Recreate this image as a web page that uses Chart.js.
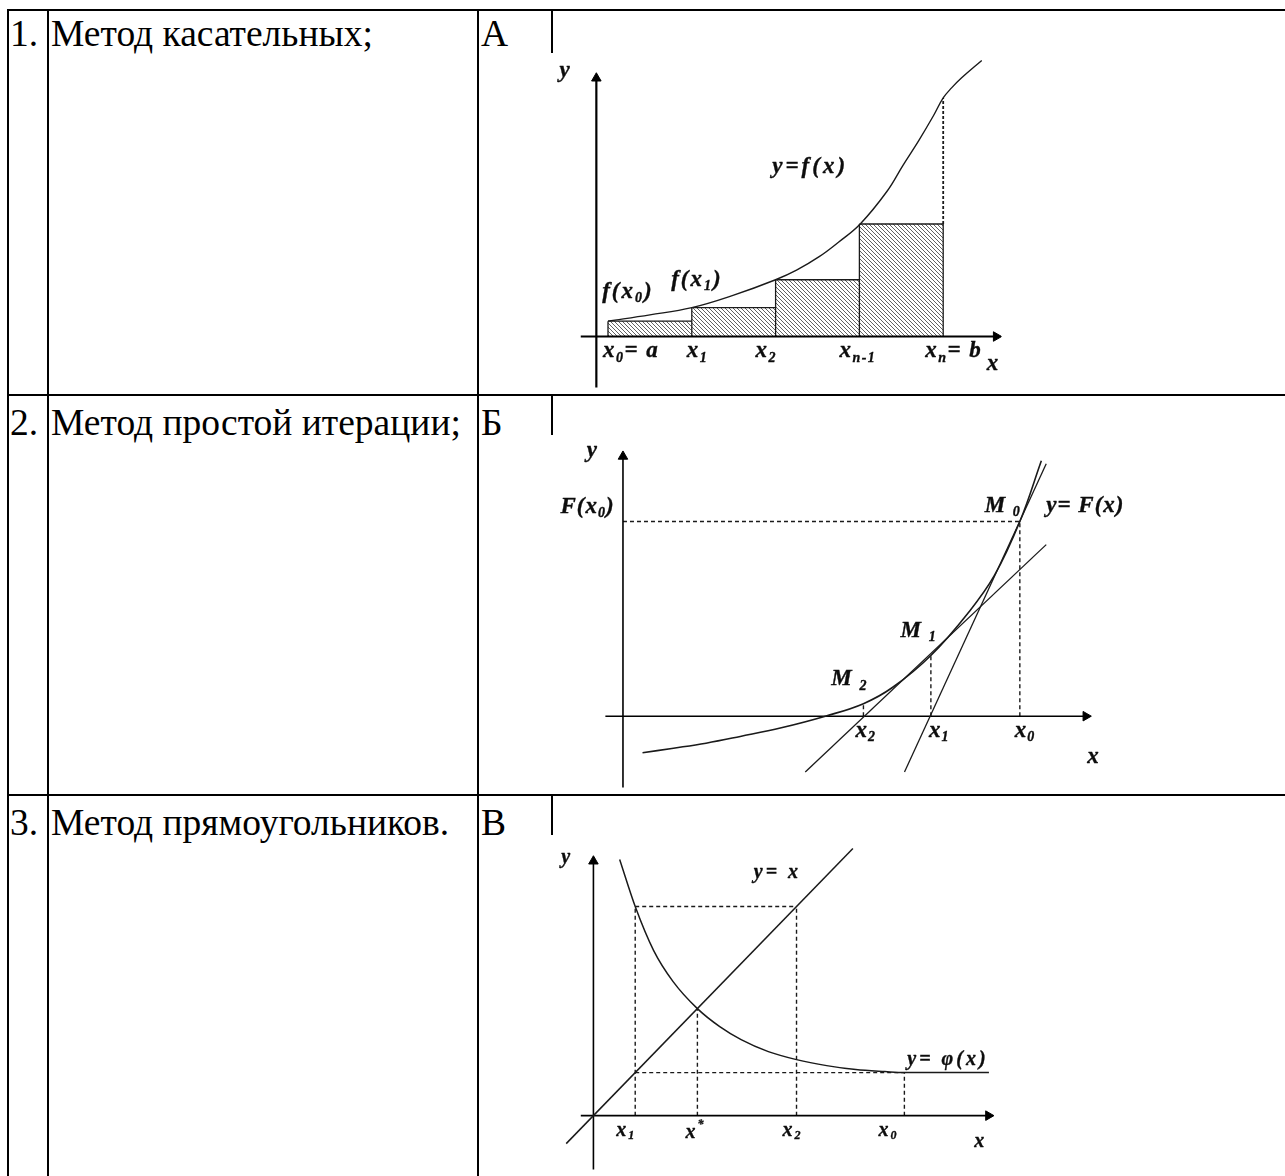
<!DOCTYPE html>
<html><head><meta charset="utf-8">
<script src="https://cdn.jsdelivr.net/npm/chart.js@4/dist/chart.umd.min.js"></script>
<style>
html,body{margin:0;padding:0;background:#fff;width:1285px;height:1176px;overflow:hidden;position:relative;}
.ln{position:absolute;background:#000;}
.tx{position:absolute;font-family:"Liberation Serif","Times New Roman",serif;font-size:37.5px;line-height:37.5px;color:#000;white-space:nowrap;}
canvas.d{position:absolute;}
</style></head><body>
<div id="grid"></div>
<canvas class="d" id="c1" width="458" height="341" style="left:550px;top:53px;width:458px;height:341px"></canvas>
<canvas class="d" id="c2" width="578" height="359" style="left:550px;top:435px;width:578px;height:359px"></canvas>
<canvas class="d" id="c3" width="460" height="341" style="left:550px;top:835px;width:460px;height:341px"></canvas>
<script>
// ---------- table text ----------
const rowNumbers = ['1.', '2.', '3.'];
const methodNames = ['Метод касательных;', 'Метод простой итерации;', 'Метод прямоугольников.'];
const letters = ['А', 'Б', 'В'];

// ---------- diagram А : rectangles method ----------
const d1Nodes = [0, 1, 2, 3, 4];                 // x0, x1, x2, x_{n-1}, x_n
const d1NodeValues = [1.6, 3.0, 5.9, 11.7, 24.8]; // f(x_i)
const d1CurveX = [0, 0.5, 1, 1.5, 2, 2.25, 2.52, 2.75, 3.01, 3.33, 3.52, 3.71, 3.88, 4, 4.1, 4.22, 4.46];
const d1CurveY = [1.6, 2.25, 3.0, 4.3, 5.9, 6.9, 8.3, 9.8, 11.7, 15.1, 17.8, 20.4, 22.9, 24.8, 25.85, 26.9, 28.7];
const d1TickLabels = ['x_0= a', 'x_1', 'x_2', 'x_{n-1}', 'x_n= b'];
const d1Labels = ['y', 'y=f(x)', 'f(x_0)', 'f(x_1)', 'x'];

// ---------- diagram Б : tangent (Newton) method ----------
const d2Nodes = [40.6, 31.5, 24.6];              // x0, x1, x2
const d2NodeValues = [20.2, 6.3, 1.3];           // F(x0), F(x1), F(x2)
const d2CurveX = [2.0, 5, 8.5, 12, 16.2, 20.7, 24.6, 27.6, 31.5, 35.3, 38.0, 40.6, 42.8];
const d2CurveY = [-3.8, -3.35, -2.8, -2.1, -1.2, 0, 1.3, 3.0, 6.3, 10.7, 14.6, 20.2, 26.5];
const d2Tangent0X = [28.8, 43.3], d2Tangent0Y = [-5.8, 26.2];
const d2Tangent1X = [18.65, 43.3], d2Tangent1Y = [-5.8, 17.8];
const d2TickLabels = ['x_0', 'x_1', 'x_2'];
const d2Labels = ['y', 'F(x_0)', 'M _0', 'y= F(x)', 'M _1', 'M _2', 'x'];

// ---------- diagram В : simple iteration ----------
const d3Nodes = [4.3, 10.7, 20.9, 32.0];         // x1, x*, x2, x0
const d3CurveX = [2.7, 4.3, 6.2, 8.2, 10.7, 13.0, 15.2, 18.0, 20.9, 24.0, 27.0, 30.0, 32.0, 35.0, 40.7];
const d3CurveY = [25.6, 20.9, 16.5, 13.4, 10.7, 8.9, 7.6, 6.4, 5.6, 5.0, 4.6, 4.4, 4.3, 4.3, 4.3];
const d3LineX = [-2.8, 26.7];                    // y = x
const d3TickLabels = ['x_1', 'x^*', 'x_2', 'x_0'];
const d3Labels = ['y', 'y= x', 'y= φ(x)', 'x'];

// ---------- layout (positions / styles) ----------
const rowTops = [15, 404, 804];
const gridLines = [
  [7, 9, 1278, 2], [7, 394, 1278, 2], [7, 794, 1278, 2],
  [7, 9, 2, 1167], [47, 9, 2, 1167], [477, 9, 2, 1167], [551, 9, 2, 1167]
];
const grid = document.getElementById('grid');
gridLines.forEach(([l, t, w, h]) => {
  const d = document.createElement('div'); d.className = 'ln';
  d.style.cssText = `left:${l}px;top:${t}px;width:${w}px;height:${h}px`;
  grid.appendChild(d);
});
function addText(txt, left, top) {
  const d = document.createElement('div'); d.className = 'tx';
  d.style.left = left + 'px'; d.style.top = top + 'px'; d.textContent = txt;
  document.body.appendChild(d);
}
rowNumbers.forEach((t, i) => {
  addText(t, 10, rowTops[i]);
  addText(methodNames[i], 51, rowTops[i]);
  addText(letters[i], 481, rowTops[i]);
});

// ---------- helpers ----------
const hatch = (() => {
  const c = document.createElement('canvas'); c.width = 4; c.height = 4;
  const g = c.getContext('2d'); g.strokeStyle = '#505050'; g.lineWidth = 0.9;
  g.beginPath(); g.moveTo(-1, -1); g.lineTo(5, 5); g.moveTo(-1, 3); g.lineTo(1, 5); g.moveTo(3, -1); g.lineTo(5, 1); g.stroke();
  return g.createPattern(c, 'repeat');
})();
const pts = (xs, ys) => xs.map((x, i) => ({x, y: ys[i]}));
const seg = (data, o = {}) => Object.assign({data, borderColor: '#1a1a1a', borderWidth: 1.5, pointRadius: 0, fill: false, tension: 0}, o);
const curve = (xs, ys, o = {}) => seg(pts(xs, ys), Object.assign({tension: 0.4}, o));
const dashed = (data, o = {}) => seg(data, Object.assign({borderDash: [4, 3], borderWidth: 1.4}, o));
const axis = (p0, p1, rot, w) => seg([p0, p1], {borderWidth: w, borderColor: '#000', pointRadius: [0, 5.5], pointStyle: 'triangle',
  pointRotation: [0, rot], pointBackgroundColor: '#000', pointBorderColor: '#000', pointBorderWidth: 1});

function parseRich(s) {
  const out = []; let i = 0, buf = '';
  while (i < s.length) {
    const c = s[i];
    if (c === '_' || c === '^') {
      if (buf) { out.push([buf, 'n']); buf = ''; }
      let t;
      if (s[i + 1] === '{') { const j = s.indexOf('}', i + 2); t = s.slice(i + 2, j); i = j + 1; }
      else { t = s[i + 1]; i += 2; }
      out.push([t, c === '_' ? 'b' : 'p']);
    } else { buf += c; i++; }
  }
  if (buf) out.push([buf, 'n']);
  return out;
}
function drawRich(ctx, x, y, s, size, sp) {
  parseRich(s).forEach(([t, k]) => {
    const fs = k === 'n' ? size : Math.round(size * 0.6);
    const dy = k === 'b' ? size * 0.28 : (k === 'p' ? -size * 0.4 : 0);
    ctx.font = `italic bold ${fs}px "Liberation Serif", "Times New Roman", serif`;
    try { ctx.letterSpacing = sp + 'px'; } catch (e) {}
    ctx.fillText(t, x, y + dy);
    ctx.strokeText(t, x, y + dy);
    x += ctx.measureText(t).width;
  });
}
const labelPlugin = items => ({
  id: 'labels',
  afterDatasetsDraw(chart) {
    const {ctx} = chart, xs = chart.scales.x, ys = chart.scales.y;
    ctx.save(); ctx.fillStyle = '#0d0d0d'; ctx.strokeStyle = '#0d0d0d'; ctx.lineWidth = 0.35;
    ctx.textBaseline = 'middle'; ctx.textAlign = 'left';
    items.forEach(it => drawRich(ctx, xs.getPixelForValue(it.u) + (it.dx || 0), ys.getPixelForValue(it.v) + (it.dy || 0), it.text, it.size, it.sp));
    ctx.restore();
  }
});
const bgPlugin = {id: 'bg', beforeDraw(c) { const g = c.ctx; g.save(); g.fillStyle = '#fff'; g.fillRect(0, 0, c.width, c.height); g.restore(); }};

function makeChart(id, xr, yr, datasets, items) {
  return new Chart(document.getElementById(id), {
    type: 'line',
    data: {datasets},
    options: {
      responsive: false, animation: false, events: [], layout: {padding: 0},
      plugins: {legend: {display: false}, tooltip: {enabled: false}},
      scales: {
        x: {type: 'linear', display: false, min: xr[0], max: xr[1]},
        y: {type: 'linear', display: false, min: yr[0], max: yr[1]}
      }
    },
    plugins: [bgPlugin, labelPlugin(items)]
  });
}

// ---------- chart А ----------
(() => {
  const ds = [];
  ds.push(curve(d1CurveX, d1CurveY, {borderWidth: 1.4}));
  ds.push(axis({x: -0.325, y: 0}, {x: 4.632, y: 0}, 90, 2.2));
  ds.push(axis({x: -0.139, y: -5.6}, {x: -0.139, y: 26.85}, 0, 2.2));
  ds.push(dashed([{x: d1Nodes[4], y: d1NodeValues[3]}, {x: d1Nodes[4], y: d1NodeValues[4]}], {borderWidth: 1.8, borderDash: [3, 2]}));
  ds.push(seg([{x: d1Nodes[4], y: 0}, {x: d1Nodes[4], y: d1NodeValues[3]}], {borderWidth: 1.3}));
  for (let i = 0; i < 4; i++) ds.push(seg([{x: d1Nodes[i], y: 0}, {x: d1Nodes[i], y: d1NodeValues[i]}], {borderWidth: 1.3}));
  for (let i = 0; i < 4; i++) ds.push(seg([{x: d1Nodes[i], y: d1NodeValues[i]}, {x: d1Nodes[i + 1], y: d1NodeValues[i]}],
    {borderWidth: 1.3, fill: 'origin', backgroundColor: hatch}));
  const pos = [[-0.58, 27.6], [1.96, 17.6], [-0.07, 4.6], [0.754, 5.9], [4.52, -2.9]];
  const lsp = [3, 3, 2, 2, 3];
  const tickDx = [-5, -5, -20, -20, -18];
  const items = d1Labels.map((t, i) => ({text: t, u: pos[i][0], v: pos[i][1], size: 23, sp: lsp[i]}))
    .concat(d1TickLabels.map((t, i) => ({text: t, u: d1Nodes[i], v: 0, dx: tickDx[i], dy: 15, size: 23, sp: 1.5})));
  makeChart('c1', [-0.6145, 4.6957], [-5.3, 28.8], ds, items);
})();

// ---------- chart Б ----------
(() => {
  const ds = [];
  ds.push(curve(d2CurveX, d2CurveY, {borderWidth: 1.6}));
  ds.push(seg(pts(d2Tangent0X, d2Tangent0Y), {borderWidth: 1.3}));
  ds.push(seg(pts(d2Tangent1X, d2Tangent1Y), {borderWidth: 1.3}));
  ds.push(axis({x: -1.8, y: 0}, {x: 47.35, y: 0}, 90, 1.6));
  ds.push(axis({x: 0, y: -7.6}, {x: 0, y: 26.95}, 0, 1.6));
  ds.push(dashed([{x: 0, y: d2NodeValues[0]}, {x: d2Nodes[0], y: d2NodeValues[0]}]));
  d2Nodes.forEach((n, i) => ds.push(dashed([{x: n, y: 0}, {x: n, y: d2NodeValues[i]}])));
  const pos = [[-3.7, 27.5], [-6.4, 21.7], [37.0, 21.8], [43.3, 21.8], [28.4, 8.8], [21.3, 3.8], [47.5, -4.2]];
  const tickDx = [-5, -2, -8];
  const items = d2Labels.map((t, i) => ({text: t, u: pos[i][0], v: pos[i][1], size: 23, sp: 1}))
    .concat(d2TickLabels.map((t, i) => ({text: t, u: d2Nodes[i], v: 0, dx: tickDx[i], dy: 15, size: 23, sp: 1})));
  makeChart('c2', [-6.8, 51.0], [-7.4, 28.5], ds, items);
})();

// ---------- chart В ----------
(() => {
  const ds = [];
  const [x1, xs, x2, x0] = d3Nodes;
  ds.push(seg(pts(d3CurveX, d3CurveY), {borderWidth: 1.5, cubicInterpolationMode: 'monotone'}));
  ds.push(seg(pts(d3LineX, d3LineX), {borderWidth: 1.5}));
  ds.push(axis({x: -1.3, y: 0}, {x: 40.65, y: 0}, 90, 1.6));
  ds.push(axis({x: 0, y: -5.6}, {x: 0, y: 25.43}, 0, 1.6));
  ds.push(dashed([{x: x1, y: x2}, {x: x2, y: x2}]));
  ds.push(dashed([{x: x1, y: x1}, {x: x0, y: x1}]));
  ds.push(dashed([{x: x1, y: 0}, {x: x1, y: x2}]));
  ds.push(dashed([{x: xs, y: 0}, {x: xs, y: xs}]));
  ds.push(dashed([{x: x2, y: 0}, {x: x2, y: x2}]));
  ds.push(dashed([{x: x0, y: 0}, {x: x0, y: x1}]));
  const pos = [[-3.3, 25.8], [16.5, 24.3], [32.3, 5.6], [39.2, -2.6]];
  const tickDx = [-19, -12, -14, -26];
  const tickDy = [15, 17, 15, 15];
  const items = d3Labels.map((t, i) => ({text: t, u: pos[i][0], v: pos[i][1], size: 20, sp: 3}))
    .concat(d3TickLabels.map((t, i) => ({text: t, u: d3Nodes[i], v: 0, dx: tickDx[i], dy: tickDy[i], size: 20, sp: 2})));
  makeChart('c3', [-3.8, 42.2], [-5.385, 27.404], ds, items);
})();
</script>
</body></html>
